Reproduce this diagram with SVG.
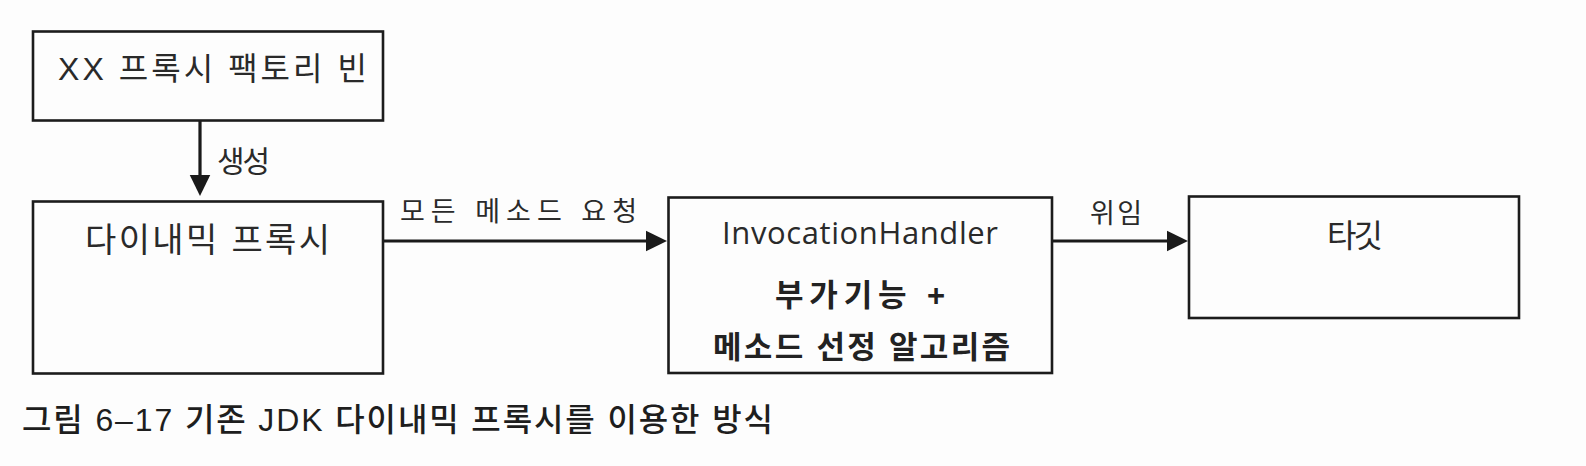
<svg xmlns="http://www.w3.org/2000/svg" width="1586" height="466" viewBox="0 0 1586 466">
<defs>
<marker id="ah" markerUnits="userSpaceOnUse" markerWidth="22" markerHeight="22" refX="0.5" refY="10.5" orient="auto" viewBox="0 0 22 21">
<path d="M0,0 L21.5,10.5 L0,21 z" fill="#1a1a1a"/>
</marker>
<style>
.box{fill:none;stroke:#1c1c1c;stroke-width:2.6}
.conn{stroke:#1a1a1a;stroke-width:3.2;fill:none}
.t{font-family:"Liberation Sans","Noto Sans CJK KR",sans-serif;fill:#2a2a2a}
.lat{font-family:"Open Sans","Noto Sans CJK KR",sans-serif;fill:#2a2a2a}
.b{font-weight:bold;fill:#222}
.cap{font-family:"Liberation Sans","Noto Sans CJK KR",sans-serif;font-weight:500;fill:#1e1e1e}
</style>
</defs>
<rect width="1586" height="466" fill="#fdfdfd"/>
<g id="connectors">
<line class="conn" x1="200" y1="121" x2="200" y2="175" marker-end="url(#ah)"/>
<line class="conn" x1="383" y1="241" x2="646" y2="241" marker-end="url(#ah)"/>
<line class="conn" x1="1052" y1="241" x2="1167" y2="241" marker-end="url(#ah)"/>
<text class="t" x="217" y="172" font-size="30" textLength="53">생성</text>
<text class="t" x="400" y="221" font-size="27" textLength="237">모든 메소드 요청</text>
<text class="t" x="1090" y="223" font-size="27" textLength="52">위임</text>
</g>
<g id="factory">
<rect class="box" x="33" y="31.5" width="350" height="89"/>
<text class="t" x="58" y="80" font-size="32" textLength="309">XX 프록시 팩토리 빈</text>
</g>
<g id="dynamic-proxy">
<rect class="box" x="33" y="201.5" width="350" height="172"/>
<text class="t" x="85" y="252" font-size="34" textLength="245">다이내믹 프록시</text>
</g>
<g id="invocation-handler">
<rect class="box" x="668.5" y="197.5" width="383.5" height="175.5"/>
<text class="lat" x="722" y="244" font-size="31" textLength="276">InvocationHandler</text>
<text class="t b" x="775" y="306" font-size="31" textLength="170">부가기능 +</text>
<text class="t b" x="713" y="358" font-size="31" textLength="297">메소드 선정 알고리즘</text>
</g>
<g id="target">
<rect class="box" x="1189" y="196.5" width="330" height="121.5"/>
<text class="t" x="1327" y="247" font-size="32" textLength="56">타깃</text>
</g>
<g id="caption">
<text class="cap" x="22" y="431" font-size="32" textLength="751">그림 6–17 기존 JDK 다이내믹 프록시를 이용한 방식</text>
</g>
</svg>
